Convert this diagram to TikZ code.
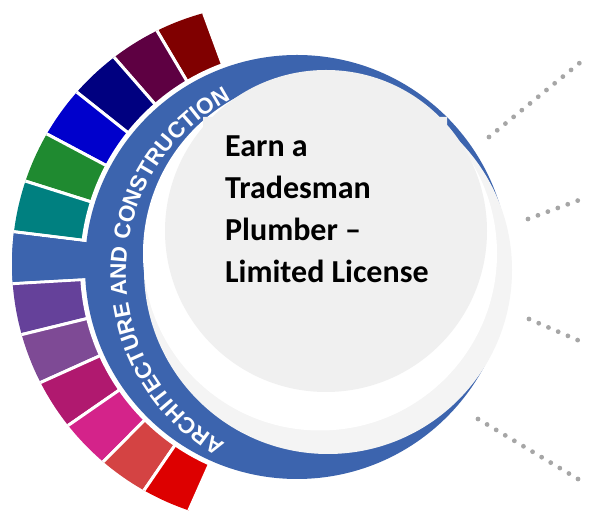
\documentclass[tikz,border=0pt]{standalone}
\usepackage{fontspec}
\setmainfont{Carlito}
\newfontfamily\ringfont{Liberation Sans}
\usetikzlibrary{decorations.text}

\definecolor{ringblue}{HTML}{3C64AE}
\definecolor{lightdisk}{HTML}{F4F4F4}
\definecolor{diskgray}{HTML}{F0F0F0}
\definecolor{dotgray}{HTML}{A6A6A6}
\definecolor{segmaroon}{HTML}{800000}
\definecolor{segplum}{HTML}{5E0042}
\definecolor{segnavy}{HTML}{000080}
\definecolor{segblue}{HTML}{0000CC}
\definecolor{seggreen}{HTML}{1F8A30}
\definecolor{segteal}{HTML}{008080}
\definecolor{seggrape}{HTML}{65419A}
\definecolor{segviolet}{HTML}{7E4A95}
\definecolor{segberry}{HTML}{B0196F}
\definecolor{segpink}{HTML}{D4238A}
\definecolor{segcoral}{HTML}{D44343}
\definecolor{segred}{HTML}{DD0000}

\begin{document}
\begin{tikzpicture}[x=1pt,y=1pt,
    segment/.style={draw=white,line width=3pt},
    dotline/.style={draw=dotgray,line width=4.8pt,line cap=round,dash pattern=on 0pt off 10.6pt}]
  \useasboundingbox (0,0) rectangle (589,521);

  \begin{scope}
    \clip (272,257) circle[radius=260pt];
    \foreach \col [count=\i from 0] in {segmaroon,segplum,segnavy,segblue,seggreen,segteal,ringblue,seggrape,segviolet,segberry,segpink,segcoral,segred}
      \filldraw[segment,fill=\col] (297,254) -- ++({110.2+10.45*\i}:300pt)
        arc[start angle={110.2+10.45*\i}, delta angle=10.45, radius=300pt] -- cycle;
  \end{scope}
  \fill[white] (297,254) circle[radius=217pt];
  \fill[ringblue] (297,254) circle[radius=212pt];
  \begin{scope}
    \clip (272,257) circle[radius=260pt];
    \fill[ringblue] (297,254) -- ++(173.3:300pt) arc[start angle=173.3, end angle=183.0, radius=300pt] -- cycle;
  \end{scope}

  \fill[lightdisk] (328,251) circle[radius=184pt];
  \fill[white] (320,267.5) circle[radius=177pt];
  \fill[diskgray] (326,290) circle[radius=161pt] (203,404) rectangle (447,221);

  \path[decorate,decoration={text along path,text align=center,
      text={|\ringfont\bfseries\fontsize{22.5}{23}\selectfont\color{white}|ARCHITECTURE AND CONSTRUCTION}}]
    (322,248) ++(245:196pt) arc[start angle=245, end angle=113, radius=196pt];

  \node[anchor=base west,align=left,inner sep=0pt,font=\bfseries\fontsize{32}{42}\selectfont] (title) at (225,238)
    {Earn a\\Tradesman\\Plumber –\\Limited License};

  \coordinate (d1a) at (489,384); \coordinate (d1b) at (582,460);
  \coordinate (d2a) at (528,302); \coordinate (d2b) at (582,322);
  \coordinate (d3a) at (529,202); \coordinate (d3b) at (582,179);
  \coordinate (d4a) at (478,102); \coordinate (d4b) at (583,39);
  \draw[dotline] (d1a) -- (d1b);
  \draw[dotline] (d2a) -- (d2b);
  \draw[dotline] (d3a) -- (d3b);
  \draw[dotline] (d4a) -- (d4b);
\end{tikzpicture}
\end{document}
